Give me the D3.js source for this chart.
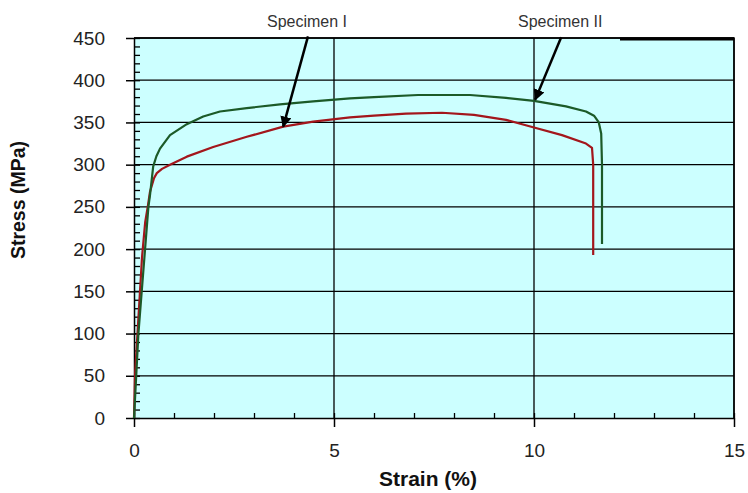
<!DOCTYPE html>
<html>
<head>
<meta charset="utf-8">
<script src="https://cdn.jsdelivr.net/npm/d3@7"></script>
<style>
  body { margin: 0; background: #fff; }
  text { font-family: Arial, "Liberation Sans", sans-serif; }
</style>
</head>
<body>
<svg id="chart"></svg>
<script>
// data
const strain1 = [0, 0.03, 0.1, 0.2, 0.28, 0.35, 0.4, 0.5, 0.57, 0.7, 0.9, 1.32, 1.98, 2.82, 3.73, 4.48, 5.4, 6, 6.8, 7.7, 8.5, 9.3, 10, 10.7, 11.3, 11.45, 11.48, 11.48];
const stress1 = [0, 55, 110, 190, 232, 252, 268, 284, 290, 295, 300, 309.5, 321, 333, 345, 351, 356, 358, 360.5, 361.5, 359, 353, 344, 335, 325, 320, 300, 193];
const strain2 = [0, 0.05, 0.11, 0.19, 0.275, 0.36, 0.4, 0.48, 0.56, 0.65, 0.9, 1.32, 1.73, 2.15, 2.82, 3.65, 4.48, 5.4, 6, 7.1, 8.4, 9.3, 10, 10.8, 11.3, 11.5, 11.62, 11.68, 11.7, 11.7];
const stress2 = [0, 45, 100, 148, 199, 250, 264, 298, 310, 319, 335, 348, 357, 363, 367, 371.5, 375, 378.5, 380, 382.5, 382.5, 379, 375.5, 369, 363, 358, 350, 337, 300, 206];

const xTicks = [0, 5, 10, 15];
const yTicks = [0, 50, 100, 150, 200, 250, 300, 350, 400, 450];
const xMinor = d3.range(0, 15.01, 1);
const yMinor = d3.range(0, 450.1, 10);

// annotations: [label, tail strain, tail stress, tip strain, tip stress]
const notes = [
  ["Specimen I", 4.35, 452, 3.73, 345],
  ["Specimen II", 10.68, 451, 10.03, 377],
];

// canvas variables
const width = 748;
const height = 493;
const marginLeft = 134;
const marginTop = 38;
const plotW = 600;
const plotH = 380;

const svg = d3.select("#chart").attr("width", width).attr("height", height);

const xScale = d3.scaleLinear().domain([0, 15]).range([marginLeft, marginLeft + plotW]);
const yScale = d3.scaleLinear().domain([0, 450]).range([marginTop + plotH, marginTop]);

// plot background
svg
  .append("rect")
  .attr("x", xScale(0))
  .attr("y", yScale(450))
  .attr("width", plotW)
  .attr("height", plotH)
  .attr("fill", "#ccffff");

// grid lines
svg
  .append("g")
  .selectAll("line")
  .data(yTicks.slice(1))
  .enter()
  .append("line")
  .attr("x1", xScale(0))
  .attr("x2", xScale(15))
  .attr("y1", (d) => yScale(d))
  .attr("y2", (d) => yScale(d))
  .attr("stroke", "#000")
  .attr("stroke-width", 1.3);

svg
  .append("g")
  .selectAll("line")
  .data(xTicks.slice(1))
  .enter()
  .append("line")
  .attr("x1", (d) => xScale(d))
  .attr("x2", (d) => xScale(d))
  .attr("y1", yScale(0))
  .attr("y2", yScale(450))
  .attr("stroke", "#000")
  .attr("stroke-width", 1.3);

// thick piece on the top border
svg
  .append("line")
  .attr("x1", xScale(12.15))
  .attr("x2", xScale(15))
  .attr("y1", yScale(450) + 1)
  .attr("y2", yScale(450) + 1)
  .attr("stroke", "#000")
  .attr("stroke-width", 3);

// minor ticks (inside)
svg
  .append("g")
  .call(d3.axisRight(yScale).tickValues(yMinor).tickSize(6).tickFormat(""))
  .attr("transform", `translate(${marginLeft}, 0)`)
  .call((g) => g.select(".domain").remove())
  .selectAll("line")
  .attr("stroke-width", 1.3);

svg
  .append("g")
  .call(d3.axisTop(xScale).tickValues(xMinor).tickSize(5).tickFormat(""))
  .attr("transform", `translate(0, ${marginTop + plotH})`)
  .call((g) => g.select(".domain").remove())
  .selectAll("line")
  .attr("stroke-width", 1.3);

// x-axis
const xAxis = svg
  .append("g")
  .call(d3.axisBottom(xScale).tickValues(xTicks).tickSize(9).tickSizeOuter(0).tickPadding(17))
  .attr("transform", `translate(0, ${marginTop + plotH})`);

// y-axis
const yAxis = svg
  .append("g")
  .call(d3.axisLeft(yScale).tickValues(yTicks).tickSize(8).tickSizeOuter(0).tickPadding(21))
  .attr("transform", `translate(${marginLeft}, 0)`);

[xAxis, yAxis].forEach((g) => {
  g.select(".domain").attr("stroke-width", 1.5);
  g.selectAll("line").attr("stroke-width", 1.5);
  g.selectAll("text")
    .style("font-size", "19px")
    .style("font-family", "Arial, 'Liberation Sans', sans-serif")
    .attr("fill", "#222");
});

// right and top border
svg
  .append("path")
  .attr("d", `M${xScale(0)},${yScale(450)}H${xScale(15)}V${yScale(0)}`)
  .attr("fill", "none")
  .attr("stroke", "#000")
  .attr("stroke-width", 1.5);

// curves
const line = d3
  .line()
  .x((d) => xScale(d[0]))
  .y((d) => yScale(d[1]));

svg
  .append("path")
  .datum(d3.zip(strain1, stress1))
  .attr("d", line)
  .attr("fill", "none")
  .attr("stroke", "#a3161c")
  .attr("stroke-width", 2.2)
  .attr("stroke-linejoin", "round");

svg
  .append("path")
  .datum(d3.zip(strain2, stress2))
  .attr("d", line)
  .attr("fill", "none")
  .attr("stroke", "#1c5a28")
  .attr("stroke-width", 2.2)
  .attr("stroke-linejoin", "round");

// arrows
svg
  .append("defs")
  .append("marker")
  .attr("id", "head")
  .attr("viewBox", "0 0 10 10")
  .attr("refX", 9)
  .attr("refY", 5)
  .attr("markerWidth", 4.5)
  .attr("markerHeight", 4.5)
  .attr("orient", "auto")
  .append("path")
  .attr("d", "M0,0L10,5L0,10z")
  .attr("fill", "#000");

svg
  .append("g")
  .selectAll("line")
  .data(notes)
  .enter()
  .append("line")
  .attr("x1", (d) => xScale(d[1]))
  .attr("y1", (d) => yScale(d[2]))
  .attr("x2", (d) => xScale(d[3]))
  .attr("y2", (d) => yScale(d[4]))
  .attr("stroke", "#000")
  .attr("stroke-width", 2.5)
  .attr("marker-end", "url(#head)");

svg
  .append("g")
  .selectAll("text")
  .data(notes)
  .enter()
  .append("text")
  .attr("x", (d) => xScale(d[1]) - 1)
  .attr("y", 27)
  .style("font-size", "16px")
  .style("text-anchor", "middle")
  .attr("fill", "#333")
  .text((d) => d[0]);

// axis labels
svg
  .append("text")
  .attr("x", 428)
  .attr("y", 486)
  .style("font-size", "21px")
  .style("font-weight", "bold")
  .style("text-anchor", "middle")
  .attr("fill", "#111")
  .text("Strain (%)");

svg
  .append("text")
  .attr("transform", "translate(25, 200) rotate(-90)")
  .style("font-size", "19.5px")
  .style("font-weight", "bold")
  .style("text-anchor", "middle")
  .attr("fill", "#111")
  .text("Stress (MPa)");
</script>
</body>
</html>
